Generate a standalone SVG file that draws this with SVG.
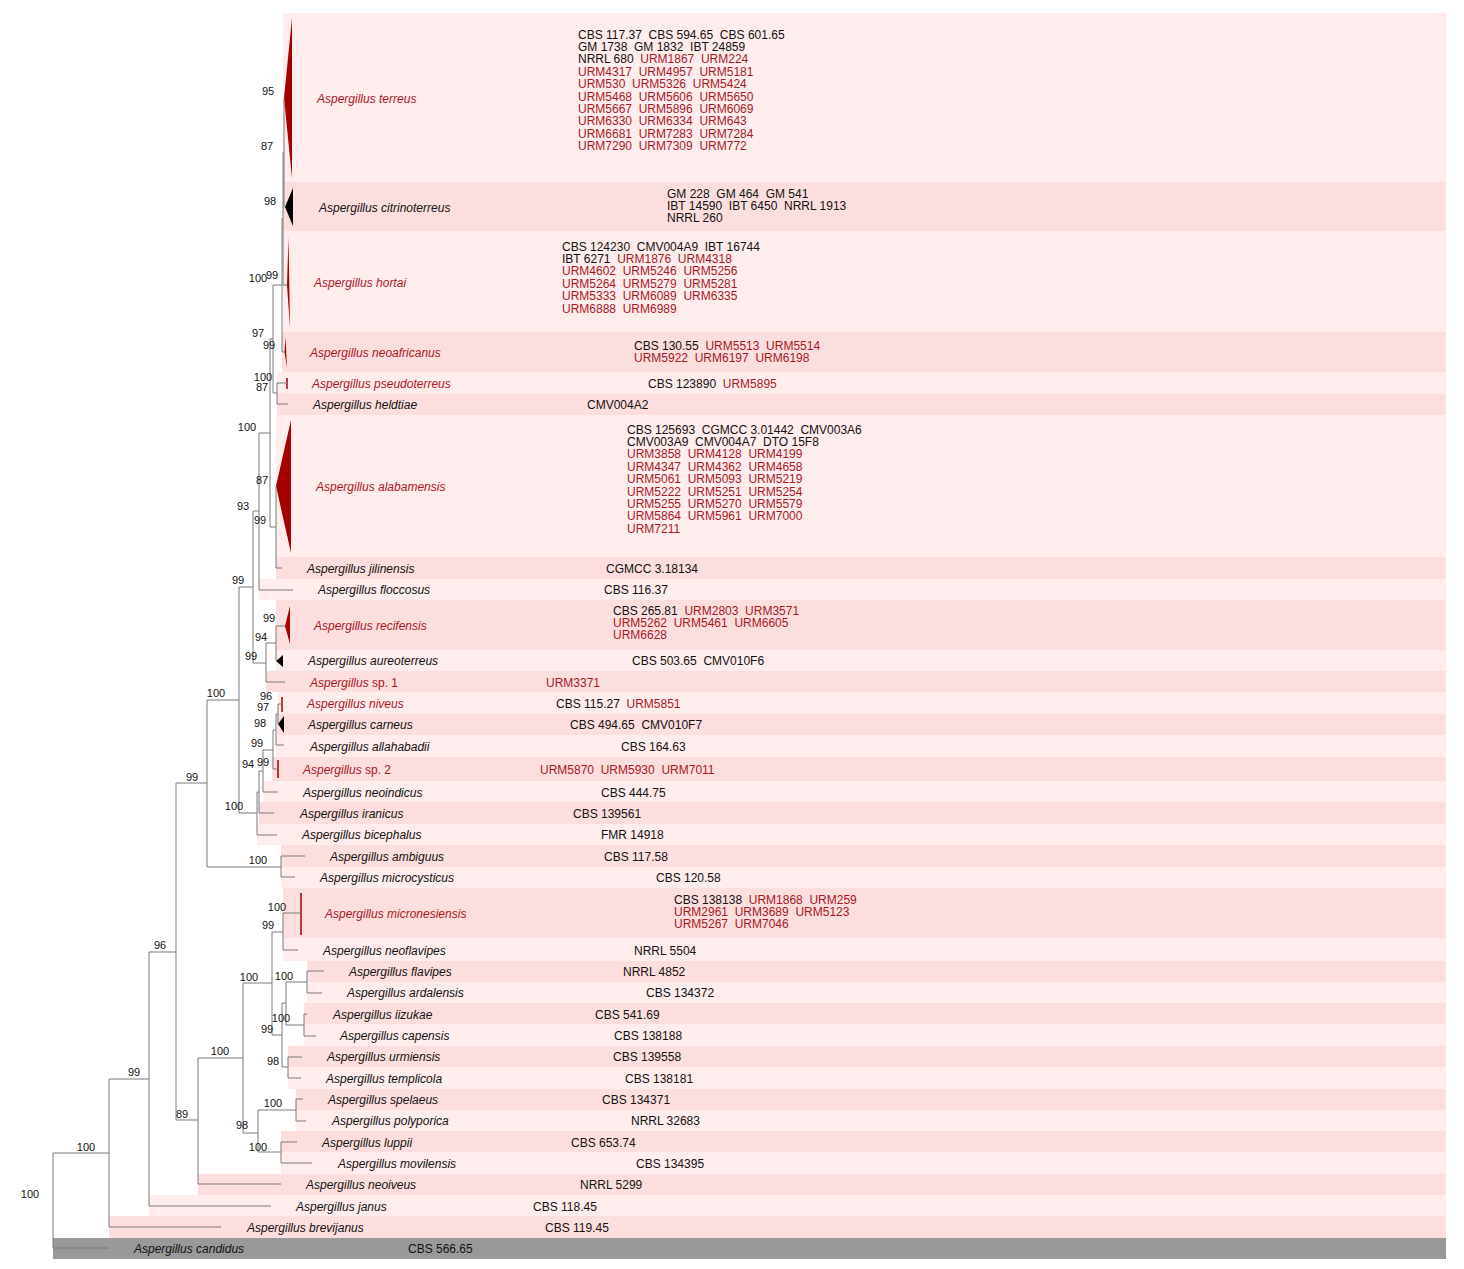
<svg xmlns="http://www.w3.org/2000/svg" width="1464" height="1269" viewBox="0 0 1464 1269" xml:space="preserve">
<defs>
<style>
.lt{fill:#ffecec}
.dk{fill:#fddede}
.gy{fill:#999999}
.sp{font-family:"Liberation Sans",Arial,sans-serif;font-size:12px;font-style:italic;fill:#111}
.st{font-family:"Liberation Sans",Arial,sans-serif;font-size:12px;fill:#111;white-space:pre}
.r{fill:#a8191f}
.up{font-style:normal}
.bs{font-family:"Liberation Sans",Arial,sans-serif;font-size:11px;fill:#111;text-anchor:middle}
.br{fill:none;stroke:#7a7a7a;stroke-width:1}
.tri{fill:#a50000}
.blk{fill:#000}
.tk{stroke:#a50000;stroke-width:1.5}
</style>
</defs>
<rect x="0" y="0" width="1464" height="1269" fill="#ffffff"/>

<g id="terreus">
<rect class="lt" x="283" y="13" width="1163" height="169"/>
<polygon class="tri" points="284,98 292,18 292,178"/>
<text class="sp r" x="317" y="102.5">Aspergillus terreus</text>
<text class="st" x="578"><tspan x="578" y="38.5">CBS 117.37  CBS 594.65  CBS 601.65</tspan><tspan x="578" y="50.9">GM 1738  GM 1832  IBT 24859</tspan><tspan x="578" y="63.3">NRRL 680  <tspan class="r">URM1867  URM224</tspan></tspan><tspan class="r" x="578" y="75.7">URM4317  URM4957  URM5181</tspan><tspan class="r" x="578" y="88.1">URM530  URM5326  URM5424</tspan><tspan class="r" x="578" y="100.5">URM5468  URM5606  URM5650</tspan><tspan class="r" x="578" y="112.9">URM5667  URM5896  URM6069</tspan><tspan class="r" x="578" y="125.3">URM6330  URM6334  URM643</tspan><tspan class="r" x="578" y="137.7">URM6681  URM7283  URM7284</tspan><tspan class="r" x="578" y="150.1">URM7290  URM7309  URM772</tspan></text>
</g>

<g id="citrinoterreus">
<rect class="dk" x="283" y="182" width="1163" height="49"/>
<polygon class="blk" points="285,207 293,188 293,226"/>
<text class="sp" x="319" y="211.5">Aspergillus citrinoterreus</text>
<text class="st" x="667"><tspan x="667" y="197.5">GM 228  GM 464  GM 541</tspan><tspan x="667" y="209.9">IBT 14590  IBT 6450  NRRL 1913</tspan><tspan x="667" y="222.3">NRRL 260</tspan></text>
</g>

<g id="hortai">
<rect class="lt" x="283" y="231" width="1163" height="101"/>
<polygon class="tri" points="287,285 288.5,237 290,328"/>
<text class="sp r" x="314" y="286.5">Aspergillus hortai</text>
<text class="st" x="562"><tspan x="562" y="250.5">CBS 124230  CMV004A9  IBT 16744</tspan><tspan x="562" y="262.9">IBT 6271  <tspan class="r">URM1876  URM4318</tspan></tspan><tspan class="r" x="562" y="275.3">URM4602  URM5246  URM5256</tspan><tspan class="r" x="562" y="287.7">URM5264  URM5279  URM5281</tspan><tspan class="r" x="562" y="300.1">URM5333  URM6089  URM6335</tspan><tspan class="r" x="562" y="312.5">URM6888  URM6989</tspan></text>
</g>

<g id="neoafricanus">
<rect class="dk" x="282" y="332" width="1164" height="40"/>
<polygon class="tri" points="284.5,352 285.5,337 287,368"/>
<text class="sp r" x="310" y="356.5">Aspergillus neoafricanus</text>
<text class="st" x="634"><tspan x="634" y="349.5">CBS 130.55  <tspan class="r">URM5513  URM5514</tspan></tspan><tspan class="r" x="634" y="361.9">URM5922  URM6197  URM6198</tspan></text>
</g>

<g id="pseudoterreus">
<rect class="lt" x="277" y="372" width="1169" height="22"/>
<line class="tk" x1="287" y1="378" x2="287" y2="389"/>
<text class="sp r" x="312" y="387.5">Aspergillus pseudoterreus</text>
<text class="st" x="648" y="387.5">CBS 123890  <tspan class="r">URM5895</tspan></text>
</g>

<g id="heldtiae">
<rect class="dk" x="277" y="394" width="1169" height="21"/>
<text class="sp" x="313" y="408.5">Aspergillus heldtiae</text>
<text class="st" x="587" y="408.5">CMV004A2</text>
</g>

<g id="alabamensis">
<rect class="lt" x="276" y="415" width="1170" height="142"/>
<polygon class="tri" points="276,486 291,420 291,553"/>
<text class="sp r" x="316" y="490.5">Aspergillus alabamensis</text>
<text class="st" x="627"><tspan x="627" y="433.5">CBS 125693  CGMCC 3.01442  CMV003A6</tspan><tspan x="627" y="445.9">CMV003A9  CMV004A7  DTO 15F8</tspan><tspan class="r" x="627" y="458.3">URM3858  URM4128  URM4199</tspan><tspan class="r" x="627" y="470.7">URM4347  URM4362  URM4658</tspan><tspan class="r" x="627" y="483.1">URM5061  URM5093  URM5219</tspan><tspan class="r" x="627" y="495.5">URM5222  URM5251  URM5254</tspan><tspan class="r" x="627" y="507.9">URM5255  URM5270  URM5579</tspan><tspan class="r" x="627" y="520.3">URM5864  URM5961  URM7000</tspan><tspan class="r" x="627" y="532.7">URM7211</tspan></text>
</g>

<g id="jilinensis">
<rect class="dk" x="276" y="557" width="1170" height="22"/>
<text class="sp" x="307" y="572.5">Aspergillus jilinensis</text>
<text class="st" x="606" y="572.5">CGMCC 3.18134</text>
</g>

<g id="floccosus">
<rect class="lt" x="259" y="579" width="1187" height="21"/>
<text class="sp" x="318" y="593.5">Aspergillus floccosus</text>
<text class="st" x="604" y="593.5">CBS 116.37</text>
</g>

<g id="recifensis">
<rect class="dk" x="276" y="600" width="1170" height="50"/>
<polygon class="tri" points="285,626 290,606 290,644"/>
<text class="sp r" x="314" y="629.5">Aspergillus recifensis</text>
<text class="st" x="613"><tspan x="613" y="614.5">CBS 265.81  <tspan class="r">URM2803  URM3571</tspan></tspan><tspan class="r" x="613" y="626.9">URM5262  URM5461  URM6605</tspan><tspan class="r" x="613" y="639.3">URM6628</tspan></text>
</g>

<g id="aureoterreus">
<rect class="lt" x="276" y="650" width="1170" height="21"/>
<polygon class="blk" points="276,661 283,655 283,667"/>
<text class="sp" x="308" y="664.5">Aspergillus aureoterreus</text>
<text class="st" x="632" y="664.5">CBS 503.65  CMV010F6</text>
</g>

<g id="sp1">
<rect class="dk" x="266" y="671" width="1180" height="21"/>
<text class="sp r" x="310" y="686.5">Aspergillus <tspan class="up">sp. 1</tspan></text>
<text class="st r" x="546" y="686.5">URM3371</text>
</g>

<g id="niveus">
<rect class="lt" x="278" y="692" width="1168" height="22"/>
<line class="tk" x1="282" y1="697" x2="282" y2="712"/>
<text class="sp r" x="307" y="707.5">Aspergillus niveus</text>
<text class="st" x="556" y="707.5">CBS 115.27  <tspan class="r">URM5851</tspan></text>
</g>

<g id="carneus">
<rect class="dk" x="277" y="714" width="1169" height="21"/>
<polygon class="blk" points="278,724 284,716 284,733"/>
<text class="sp" x="308" y="728.5">Aspergillus carneus</text>
<text class="st" x="570" y="728.5">CBS 494.65  CMV010F7</text>
</g>

<g id="allahabadii">
<rect class="lt" x="276" y="735" width="1170" height="22"/>
<text class="sp" x="310" y="750.5">Aspergillus allahabadii</text>
<text class="st" x="621" y="750.5">CBS 164.63</text>
</g>

<g id="sp2">
<rect class="dk" x="272" y="757" width="1174" height="24"/>
<line class="tk" x1="278" y1="760" x2="278" y2="778"/>
<text class="sp r" x="303" y="773.5">Aspergillus <tspan class="up">sp. 2</tspan></text>
<text class="st r" x="540" y="773.5">URM5870  URM5930  URM7011</text>
</g>

<g id="neoindicus">
<rect class="lt" x="263" y="781" width="1183" height="21"/>
<text class="sp" x="303" y="796.5">Aspergillus neoindicus</text>
<text class="st" x="601" y="796.5">CBS 444.75</text>
</g>

<g id="iranicus">
<rect class="dk" x="259" y="802" width="1187" height="22"/>
<text class="sp" x="300" y="817.5">Aspergillus iranicus</text>
<text class="st" x="573" y="817.5">CBS 139561</text>
</g>

<g id="bicephalus">
<rect class="lt" x="257" y="824" width="1189" height="21"/>
<text class="sp" x="302" y="838.5">Aspergillus bicephalus</text>
<text class="st" x="601" y="838.5">FMR 14918</text>
</g>

<g id="ambiguus">
<rect class="dk" x="281" y="845" width="1165" height="22"/>
<text class="sp" x="330" y="860.5">Aspergillus ambiguus</text>
<text class="st" x="604" y="860.5">CBS 117.58</text>
</g>

<g id="microcysticus">
<rect class="lt" x="281" y="867" width="1165" height="21"/>
<text class="sp" x="320" y="881.5">Aspergillus microcysticus</text>
<text class="st" x="656" y="881.5">CBS 120.58</text>
</g>

<g id="micronesiensis">
<rect class="dk" x="283" y="888" width="1163" height="50"/>
<line class="tk" x1="301" y1="893" x2="301" y2="935"/>
<text class="sp r" x="325" y="917.5">Aspergillus micronesiensis</text>
<text class="st" x="674"><tspan x="674" y="903.5">CBS 138138  <tspan class="r">URM1868  URM259</tspan></tspan><tspan class="r" x="674" y="915.9">URM2961  URM3689  URM5123</tspan><tspan class="r" x="674" y="928.3">URM5267  URM7046</tspan></text>
</g>

<g id="neoflavipes">
<rect class="lt" x="283" y="938" width="1163" height="23"/>
<text class="sp" x="323" y="954.5">Aspergillus neoflavipes</text>
<text class="st" x="634" y="954.5">NRRL 5504</text>
</g>

<g id="flavipes">
<rect class="dk" x="307" y="961" width="1139" height="21"/>
<text class="sp" x="349" y="975.5">Aspergillus flavipes</text>
<text class="st" x="623" y="975.5">NRRL 4852</text>
</g>

<g id="ardalensis">
<rect class="lt" x="307" y="982" width="1139" height="21"/>
<text class="sp" x="347" y="996.5">Aspergillus ardalensis</text>
<text class="st" x="646" y="996.5">CBS 134372</text>
</g>

<g id="iizukae">
<rect class="dk" x="304" y="1003" width="1142" height="21"/>
<text class="sp" x="333" y="1018.5">Aspergillus iizukae</text>
<text class="st" x="595" y="1018.5">CBS 541.69</text>
</g>

<g id="capensis">
<rect class="lt" x="304" y="1024" width="1142" height="22"/>
<text class="sp" x="340" y="1039.5">Aspergillus capensis</text>
<text class="st" x="614" y="1039.5">CBS 138188</text>
</g>

<g id="urmiensis">
<rect class="dk" x="288" y="1046" width="1158" height="21"/>
<text class="sp" x="327" y="1060.5">Aspergillus urmiensis</text>
<text class="st" x="613" y="1060.5">CBS 139558</text>
</g>

<g id="templicola">
<rect class="lt" x="288" y="1067" width="1158" height="22"/>
<text class="sp" x="326" y="1082.5">Aspergillus templicola</text>
<text class="st" x="625" y="1082.5">CBS 138181</text>
</g>

<g id="spelaeus">
<rect class="dk" x="296" y="1089" width="1150" height="21"/>
<text class="sp" x="328" y="1103.5">Aspergillus spelaeus</text>
<text class="st" x="602" y="1103.5">CBS 134371</text>
</g>

<g id="polyporica">
<rect class="lt" x="296" y="1110" width="1150" height="21"/>
<text class="sp" x="332" y="1124.5">Aspergillus polyporica</text>
<text class="st" x="631" y="1124.5">NRRL 32683</text>
</g>

<g id="luppii">
<rect class="dk" x="281" y="1131" width="1165" height="21"/>
<text class="sp" x="322" y="1146.5">Aspergillus luppii</text>
<text class="st" x="571" y="1146.5">CBS 653.74</text>
</g>

<g id="movilensis">
<rect class="lt" x="281" y="1152" width="1165" height="22"/>
<text class="sp" x="338" y="1167.5">Aspergillus movilensis</text>
<text class="st" x="636" y="1167.5">CBS 134395</text>
</g>

<g id="neoiveus">
<rect class="dk" x="198" y="1174" width="1248" height="21"/>
<text class="sp" x="306" y="1188.5">Aspergillus neoiveus</text>
<text class="st" x="580" y="1188.5">NRRL 5299</text>
</g>

<g id="janus">
<rect class="lt" x="149" y="1195" width="1297" height="21"/>
<text class="sp" x="296" y="1210.5">Aspergillus janus</text>
<text class="st" x="533" y="1210.5">CBS 118.45</text>
</g>

<g id="brevijanus">
<rect class="dk" x="109" y="1216" width="1337" height="22"/>
<text class="sp" x="247" y="1231.5">Aspergillus brevijanus</text>
<text class="st" x="545" y="1231.5">CBS 119.45</text>
</g>

<g id="candidus">
<rect class="gy" x="53" y="1238" width="1393" height="21"/>
<text class="sp" x="134" y="1252.5">Aspergillus candidus</text>
<text class="st" x="408" y="1252.5">CBS 566.65</text>
</g>

<g id="connectors">
<path class="br" d="M53,1153V1248M53,1153H109M53,1248H109
M109,1079V1227M109,1079H149M109,1227H221
M149,952V1206M149,952H176M149,1206H271
M176,783V1120M176,783H207M176,1120H198
M198,1058V1184M198,1058H243M198,1184H281
M243,983V1133M243,983H272M243,1133H258
M272,932V1035M272,932H283M272,1035H282
M283,913V950M283,913H301M283,950H298
M282,1003V1067M282,1003H286M282,1067H288
M286,982V1025M286,982H307M286,1025H304
M307,971V993M307,971H324M307,993H322
M304,1014V1036M304,1014H307M304,1036H316
M288,1057V1078M288,1057H302M288,1078H301
M258,1110V1152M258,1110H296M258,1152H281
M296,1099V1121M296,1099H303M296,1121H306
M281,1142V1163M281,1142H297M281,1163H312
M207,700V867M207,700H239M207,867H281
M281,856V877M281,856H305M281,877H295
M239,587V813M239,587H253M239,813H257
M257,792V835M257,792H259M257,835H277
M259,771V813M259,771H263M259,813H274
M263,750V792M263,750H273M263,792H278
M273,730V769M273,730H276M273,769H278
M276,714V745M276,714H278M276,745H284
M278,704V724M278,704H282
M253,511V663M253,511H259M253,663H266
M266,643V682M266,643H276M266,682H285
M276,626V661M276,626H285
M259,433V590M259,433H270M259,590H293
M270,339V527M270,339H273M270,527H276
M276,486V568M276,568H282
M273,285V393M273,285H282M273,393H277
M277,383V404M277,383H287M277,404H288
M282,218V352M282,352H285
M283,152V285M283,285H287
M284,98V207"/>
</g>

<g id="support">
<text class="bs" x="268" y="95">95</text>
<text class="bs" x="267" y="150">87</text>
<text class="bs" x="270" y="205">98</text>
<text class="bs" x="258" y="282">100</text>
<text class="bs" x="272" y="279">99</text>
<text class="bs" x="258" y="337">97</text>
<text class="bs" x="269" y="349">99</text>
<text class="bs" x="263" y="381">100</text>
<text class="bs" x="262" y="391">87</text>
<text class="bs" x="247" y="431">100</text>
<text class="bs" x="262" y="484">87</text>
<text class="bs" x="243" y="510">93</text>
<text class="bs" x="260" y="524">99</text>
<text class="bs" x="238" y="584">99</text>
<text class="bs" x="269" y="622">99</text>
<text class="bs" x="261" y="641">94</text>
<text class="bs" x="251" y="660">99</text>
<text class="bs" x="216" y="697">100</text>
<text class="bs" x="266" y="700">96</text>
<text class="bs" x="263" y="711">97</text>
<text class="bs" x="260" y="727">98</text>
<text class="bs" x="257" y="747">99</text>
<text class="bs" x="248" y="768">94</text>
<text class="bs" x="263" y="766">99</text>
<text class="bs" x="192" y="781">99</text>
<text class="bs" x="234" y="810">100</text>
<text class="bs" x="258" y="864">100</text>
<text class="bs" x="160" y="949">96</text>
<text class="bs" x="277" y="911">100</text>
<text class="bs" x="268" y="929">99</text>
<text class="bs" x="249" y="981">100</text>
<text class="bs" x="284" y="980">100</text>
<text class="bs" x="281" y="1022">100</text>
<text class="bs" x="267" y="1033">99</text>
<text class="bs" x="273" y="1065">98</text>
<text class="bs" x="220" y="1055">100</text>
<text class="bs" x="134" y="1076">99</text>
<text class="bs" x="273" y="1107">100</text>
<text class="bs" x="182" y="1118">89</text>
<text class="bs" x="242" y="1129">98</text>
<text class="bs" x="258" y="1151">100</text>
<text class="bs" x="86" y="1151">100</text>
<text class="bs" x="30" y="1198">100</text>
</g>
</svg>
